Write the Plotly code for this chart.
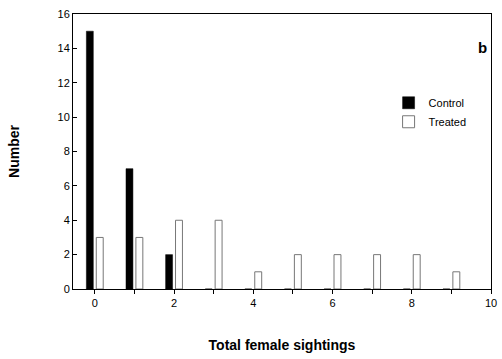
import plotly.graph_objects as go

sightings = [0, 1, 2, 3, 4, 5, 6, 7, 8, 9]
control = [15, 7, 2, 0, 0, 0, 0, 0, 0, 0]
treated = [3, 3, 4, 4, 1, 2, 2, 2, 2, 1]

fig = go.Figure()
fig.add_trace(go.Bar(x=sightings, y=control, name="Control",
                     marker=dict(color="black", line=dict(color="black", width=0.5))))
fig.add_trace(go.Bar(x=sightings, y=treated, name="Treated",
                     marker=dict(color="white", line=dict(color="#777777", width=1))))

font = "Liberation Sans, Arial, sans-serif"
fig.update_layout(
    width=502, height=359,
    margin=dict(l=73, r=11, t=14, b=70, autoexpand=False),
    paper_bgcolor="white", plot_bgcolor="white",
    barmode="group", bargap=0.5, bargroupgap=0.3,
    font=dict(family=font, color="black", size=11),
    showlegend=True,
    legend=dict(x=0.755, y=0.73, xanchor="left", yanchor="top",
                bgcolor="rgba(0,0,0,0)", font=dict(size=11),
                itemwidth=30, tracegroupgap=0),
    annotations=[dict(text="<b>b</b>", x=0.995, y=0.88, xref="paper", yref="paper",
                      xanchor="right", yanchor="middle", showarrow=False,
                      font=dict(size=15, family=font))],
)
fig.update_xaxes(range=[-0.55, 10], tickmode="array",
                 tickvals=list(range(0, 11)),
                 ticktext=[str(v) if v % 2 == 0 else "" for v in range(0, 11)],
                 ticks="outside", ticklen=4, tickcolor="black",
                 showline=True, linecolor="black", linewidth=1, mirror=True,
                 showgrid=False, zeroline=False, automargin=False,
                 title=dict(text="<b>Total female sightings</b>", font=dict(size=14), standoff=31))
fig.update_yaxes(range=[0, 16], tickvals=list(range(0, 17, 2)),
                 ticks="inside", ticklen=4, tickcolor="black",
                 showline=True, linecolor="black", linewidth=1, mirror=True,
                 showgrid=False, zeroline=False, automargin=False,
                 title=dict(text="<b>Number</b>", font=dict(size=14), standoff=34))

fig.write_html("out.html", config={"displayModeBar": False},
               post_script="document.body.style.margin='0';")
